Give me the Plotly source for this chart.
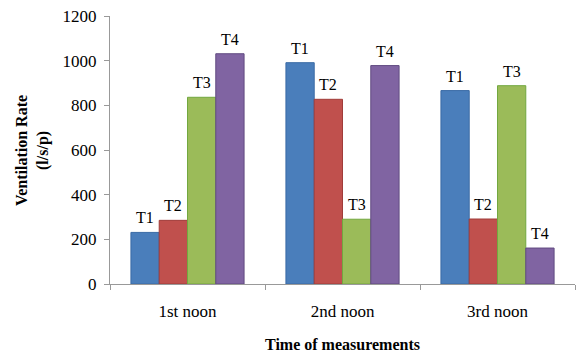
import plotly.graph_objects as go

# Ventilation rate per test room at each measurement time
categories = ["1st noon", "2nd noon", "3rd noon"]
series_names = ["T1", "T2", "T3", "T4"]
values = {
    "T1": [231, 991, 866],
    "T2": [285, 827, 291],
    "T3": [836, 290, 888],
    "T4": [1031, 978, 161],
}
fill_colors = ["#4A7EBB", "#C0504D", "#9BBB59", "#8064A2"]
line_colors = ["#3A6BA5", "#A03C3A", "#72A83F", "#604A80"]

bargap = 0.27
serif = "Liberation Serif, Times New Roman, serif"

fig = go.Figure()
for name, fc, lc in zip(series_names, fill_colors, line_colors):
    fig.add_trace(go.Bar(
        x=categories, y=values[name], name=name,
        marker=dict(color=fc, line=dict(color=lc, width=1)),
    ))

# series labels above each bar
n = len(series_names)
bw = (1 - bargap) / n
annotations = []
for i, name in enumerate(series_names):
    for j, v in enumerate(values[name]):
        annotations.append(dict(
            x=j - (1 - bargap) / 2 + (i + 0.5) * bw, y=v, xref="x", yref="y",
            text=name, showarrow=False, yanchor="bottom", yshift=4,
            font=dict(family=serif, size=16, color="#000000"),
        ))

annotations.append(dict(
    x=-0.168, y=0.5, xref="paper", yref="paper", xanchor="center", yanchor="middle",
    text="<b>Ventilation Rate<br>(l/s/p)</b>", textangle=-90, showarrow=False,
    font=dict(family=serif, size=16, color="#000000"),
))
annotations.append(dict(
    x=0.5, y=-0.225, xref="paper", yref="paper", xanchor="center", yanchor="middle",
    text="<b>Time of measurements</b>", showarrow=False,
    font=dict(family=serif, size=16, color="#000000"),
))

fig.update_layout(
    width=577, height=352,
    margin=dict(l=110, r=2, t=16, b=68),
    paper_bgcolor="white", plot_bgcolor="white",
    barmode="group", bargap=bargap, bargroupgap=0,
    showlegend=False,
    annotations=annotations,
    font=dict(family=serif, size=16, color="#000000"),
)
fig.update_xaxes(
    showline=True, linecolor="#999999", linewidth=1,
    ticks="outside", tickson="boundaries", ticklen=5, tickcolor="#999999",
    showgrid=False, ticklabelstandoff=12,
    tickfont=dict(family=serif, size=17, color="#000000"),
)
fig.update_yaxes(
    range=[0, 1200], dtick=200,
    showline=True, linecolor="#999999", linewidth=1,
    ticks="outside", ticklen=5, tickcolor="#999999",
    showgrid=False, zeroline=False, ticklabelstandoff=4,
    tickfont=dict(family=serif, size=17, color="#000000"),
)

fig.write_html("out.html")
